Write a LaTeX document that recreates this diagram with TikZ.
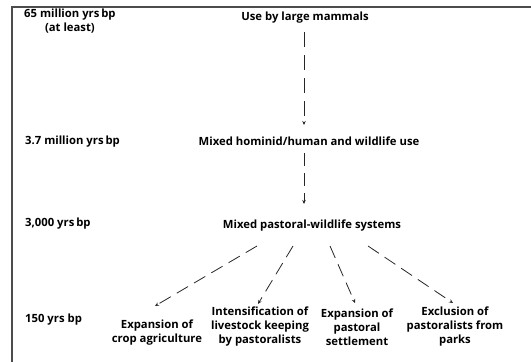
\documentclass[tikz,border=0pt]{standalone}
\usepackage{fontspec}
\setmainfont{Open Sans}
\usetikzlibrary{arrows.meta}
\begin{document}
\begin{tikzpicture}[x=1pt,y=-1pt,
  lbl/.style={font=\bfseries\fontsize{11.3}{14}\selectfont, inner sep=0pt, align=center},
  era/.style={lbl, anchor=west},
  dasharrow/.style={draw=black!85, line width=0.8pt, dash pattern=on 13pt off 7pt, -{Stealth[length=4pt,width=3.5pt]}}]
\useasboundingbox (0,0) rectangle (531,362);
\draw[line width=1.4pt, draw=black!70] (12,362) -- (12,7) -- (531,7);
% eras
\node[lbl, anchor=west] (e1) at (24,21) {65 million yrs\,bp\\(at least)};
\node[era] (e2) at (25,142) {3.7 million yrs\,bp};
\node[era] (e3) at (25,224) {3,000 yrs\,bp};
\node[era] (e4) at (25,320) {150 yrs bp};
% main chain
\node[lbl] (a) at (305,18) {Use by large mammals};
\node[lbl] (b) at (309,141) {Mixed hominid/human and wildlife use};
\node[lbl] (c) at (312,226) {Mixed pastoral-wildlife systems};
\node[lbl] (d1) at (157,333) {Expansion of\\crop agriculture};
\node[lbl] (d2) at (260,327) {Intensification of\\livestock keeping\\by pastoralists};
\node[lbl] (d3) at (357,327) {Expansion of\\pastoral\\settlement};
\node[lbl] (d4) at (455,327) {Exclusion of\\pastoralists from\\parks};
\coordinate (a1) at (304,32);
\coordinate (a2) at (304,125);
\coordinate (b1) at (304,153);
\coordinate (b2) at (304,204);
\coordinate (c1) at (257,246);
\coordinate (c2) at (293,246);
\coordinate (c3) at (330,246);
\coordinate (c4) at (368,246);
\coordinate (t1) at (155,306);
\coordinate (t2) at (258,304);
\coordinate (t3) at (355,303);
\coordinate (t4) at (453,303);
\draw[dasharrow, dash pattern=on 15pt off 8pt] (a1) -- (a2);
\draw[dasharrow] (b1) -- (b2);
\draw[dasharrow] (c1) -- (t1);
\draw[dasharrow] (c2) -- (t2);
\draw[dasharrow] (c3) -- (t3);
\draw[dasharrow] (c4) -- (t4);
\end{tikzpicture}
\end{document}
